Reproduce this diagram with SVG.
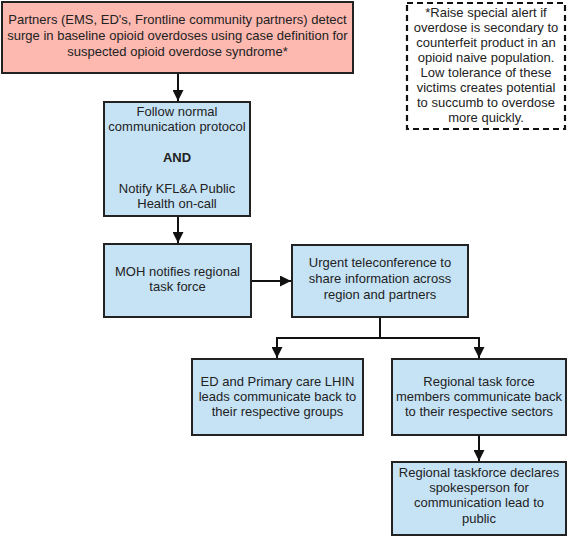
<svg xmlns="http://www.w3.org/2000/svg" width="567" height="537" viewBox="0 0 567 537">
<defs>
<style>
.box{stroke:#222;stroke-width:2}
.red{fill:#fdb8b0}
.blue{fill:#c6e3f6}
.note{fill:#fff;stroke:#111;stroke-width:2.2;stroke-dasharray:6 4}
text{font-family:"Liberation Sans",Arial,sans-serif;font-size:13px;fill:#222;text-anchor:middle}
.b{font-weight:bold}
.c{fill:none;stroke:#111;stroke-width:2}
</style>
<marker id="ah" viewBox="0 0 10 10" refX="10" refY="5" markerWidth="5.5" markerHeight="5.5" orient="auto" markerUnits="strokeWidth">
<path d="M0,0 L10,5 L0,10 Z" fill="#111"/>
</marker>
</defs>
<rect width="567" height="537" fill="#fff"/>
<g id="connectors">
<line class="c" x1="178" y1="73" x2="178" y2="101" marker-end="url(#ah)"/>
<line class="c" x1="178" y1="216" x2="178" y2="243" marker-end="url(#ah)"/>
<line class="c" x1="251" y1="281" x2="291" y2="281" marker-end="url(#ah)"/>
<polyline class="c" points="380,317 380,338"/>
<polyline class="c" points="277,338 479,338"/>
<line class="c" x1="277" y1="337" x2="277" y2="358" marker-end="url(#ah)"/>
<line class="c" x1="479" y1="337" x2="479" y2="358" marker-end="url(#ah)"/>
<line class="c" x1="479" y1="435" x2="479" y2="461" marker-end="url(#ah)"/>
</g>
<g id="n1">
<rect class="box red" x="2" y="2" width="351" height="71"/>
<text x="177.5" y="24">Partners (EMS, ED's, Frontline community partners) detect</text>
<text x="177.5" y="40">surge in baseline opioid overdoses using case definition for</text>
<text x="177.5" y="56">suspected opioid overdose syndrome*</text>
</g>
<g id="note">
<rect class="note" x="407" y="3" width="158" height="126"/>
<text x="486" y="17">*Raise special alert if</text>
<text x="486" y="32">overdose is secondary to</text>
<text x="486" y="47">counterfeit product in an</text>
<text x="486" y="62">opioid naive population.</text>
<text x="486" y="77">Low tolerance of these</text>
<text x="486" y="92">victims creates potential</text>
<text x="486" y="107">to succumb to overdose</text>
<text x="486" y="122">more quickly.</text>
</g>
<g id="n2">
<rect class="box blue" x="104" y="102" width="146" height="114"/>
<text x="177" y="116">Follow normal</text>
<text x="177" y="131">communication protocol</text>
<text x="177" y="162" class="b">AND</text>
<text x="177" y="193">Notify KFL&amp;A Public</text>
<text x="177" y="208">Health on-call</text>
</g>
<g id="n3">
<rect class="box blue" x="104" y="244" width="147" height="73"/>
<text x="177.5" y="276">MOH notifies regional</text>
<text x="177.5" y="291">task force</text>
</g>
<g id="n4">
<rect class="box blue" x="292" y="245" width="176" height="72"/>
<text x="380" y="267">Urgent teleconference to</text>
<text x="380" y="283">share information across</text>
<text x="380" y="299">region and partners</text>
</g>
<g id="n5">
<rect class="box blue" x="192" y="359" width="171" height="76"/>
<text x="277.5" y="386">ED and Primary care LHIN</text>
<text x="277.5" y="401">leads communicate back to</text>
<text x="277.5" y="416">their respective groups</text>
</g>
<g id="n6">
<rect class="box blue" x="392" y="359" width="174" height="76"/>
<text x="479" y="386">Regional task force</text>
<text x="479" y="401">members communicate back</text>
<text x="479" y="416">to their respective sectors</text>
</g>
<g id="n7">
<rect class="box blue" x="392" y="462" width="174" height="73"/>
<text x="479" y="477">Regional taskforce declares</text>
<text x="479" y="492">spokesperson for</text>
<text x="479" y="507">communication lead to</text>
<text x="479" y="523">public</text>
</g>
</svg>
